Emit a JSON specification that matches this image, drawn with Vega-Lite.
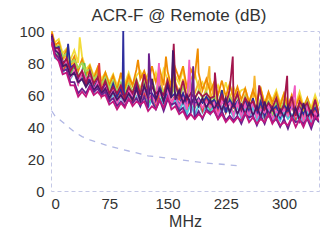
{
"$schema":"https://vega.github.io/schema/vega-lite/v6.json",
"width":268,"height":160,
"autosize":"none",
"padding":{"left":51,"top":31,"right":15,"bottom":51},
"background":"white",
"title":{"text":"ACR-F @ Remote (dB)","fontSize":17,"font":"Liberation Sans","fontWeight":"normal","color":"#333333","offset":-1,"dx":-6},
"config":{"view":{"stroke":"#c4c8e6","strokeDash":[4,3]},"font":"Liberation Sans"},
"encoding":{"x":{"field":"f","type":"quantitative","scale":{"domain":[0,345]},"axis":{"values":[0,75,150,225,300],"labelFontSize":15,"labelColor":"#333333","domain":false,"ticks":false,"grid":false,"labelPadding":5,"labelOverlap":false,"title":"MHz","titleFontSize":16,"titleFontWeight":"normal","titleColor":"#333333","titlePadding":2}},
"y":{"field":"v","type":"quantitative","scale":{"domain":[0,100]},"axis":{"values":[0,20,40,60,80,100],"labelFontSize":15,"labelColor":"#333333","domain":false,"ticks":false,"grid":false,"labelPadding":7,"labelOverlap":false,"labelBound":false,"title":null}}},
"layer":[
{"data":{"values":[{"f":1,"v":50},{"f":5,"v":47},{"f":10,"v":45},{"f":20,"v":41},{"f":30,"v":37},{"f":40,"v":34},{"f":50,"v":32},{"f":75,"v":28},{"f":100,"v":25},{"f":125,"v":22},{"f":150,"v":20.5},{"f":175,"v":19},{"f":200,"v":17.5},{"f":225,"v":16.5},{"f":245,"v":15.5}]},
"mark":{"type":"line","color":"#b0b6e4","strokeDash":[6,6],"strokeWidth":1.3}},
{"data":{"values":[
{"s":"a","f":1,"v":97},{"s":"a","f":5,"v":93},{"s":"a","f":10,"v":95},{"s":"a","f":15,"v":86},{"s":"a","f":20,"v":89},{"s":"a","f":25,"v":82},{"s":"a","f":30,"v":88},{"s":"a","f":35,"v":80},{"s":"a","f":37,"v":96},{"s":"a","f":40,"v":84},{"s":"a","f":45,"v":76},
{"s":"a","f":50,"v":79},{"s":"a","f":55,"v":72},{"s":"a","f":60,"v":77},{"s":"a","f":65,"v":70},{"s":"a","f":70,"v":74},{"s":"a","f":75,"v":68},{"s":"a","f":80,"v":73},{"s":"a","f":85,"v":66},{"s":"a","f":90,"v":72},{"s":"a","f":95,"v":67},
{"s":"a","f":100,"v":74},{"s":"a","f":105,"v":66},{"s":"a","f":110,"v":72},{"s":"a","f":115,"v":75},{"s":"a","f":120,"v":68},{"s":"a","f":125,"v":73},{"s":"a","f":130,"v":66},{"s":"a","f":135,"v":74},{"s":"a","f":140,"v":64},{"s":"a","f":145,"v":76},
{"s":"a","f":150,"v":70},{"s":"a","f":155,"v":64},{"s":"a","f":160,"v":72},{"s":"a","f":165,"v":67},{"s":"a","f":170,"v":76},{"s":"a","f":175,"v":63},{"s":"a","f":180,"v":70},{"s":"a","f":185,"v":74},{"s":"a","f":190,"v":64},{"s":"a","f":195,"v":68},
{"s":"a","f":200,"v":62},{"s":"a","f":205,"v":69},{"s":"a","f":210,"v":60},{"s":"a","f":215,"v":66},{"s":"a","f":220,"v":59},{"s":"a","f":225,"v":68},{"s":"a","f":230,"v":58},{"s":"a","f":235,"v":65},{"s":"a","f":240,"v":59},{"s":"a","f":245,"v":63},
{"s":"a","f":250,"v":64},{"s":"a","f":255,"v":56},{"s":"a","f":260,"v":62},{"s":"a","f":265,"v":58},{"s":"a","f":270,"v":64},{"s":"a","f":275,"v":55},{"s":"a","f":280,"v":61},{"s":"a","f":285,"v":57},{"s":"a","f":290,"v":63},{"s":"a","f":295,"v":55},
{"s":"a","f":300,"v":61},{"s":"a","f":305,"v":55},{"s":"a","f":310,"v":59},{"s":"a","f":315,"v":54},{"s":"a","f":320,"v":62},{"s":"a","f":325,"v":53},{"s":"a","f":330,"v":58},{"s":"a","f":335,"v":52},{"s":"a","f":340,"v":60},{"s":"a","f":345,"v":53},

{"s":"b","f":1,"v":100},{"s":"b","f":5,"v":92},{"s":"b","f":10,"v":90},{"s":"b","f":15,"v":82},{"s":"b","f":20,"v":85},{"s":"b","f":25,"v":78},{"s":"b","f":30,"v":81},{"s":"b","f":35,"v":76},{"s":"b","f":40,"v":82},{"s":"b","f":45,"v":72},
{"s":"b","f":50,"v":76},{"s":"b","f":55,"v":68},{"s":"b","f":60,"v":74},{"s":"b","f":65,"v":66},{"s":"b","f":70,"v":70},{"s":"b","f":75,"v":63},{"s":"b","f":80,"v":68},{"s":"b","f":85,"v":62},{"s":"b","f":90,"v":67},{"s":"b","f":95,"v":63},
{"s":"b","f":100,"v":70},{"s":"b","f":105,"v":61},{"s":"b","f":110,"v":69},{"s":"b","f":115,"v":64},{"s":"b","f":120,"v":71},{"s":"b","f":125,"v":62},{"s":"b","f":130,"v":67},{"s":"b","f":135,"v":60},{"s":"b","f":140,"v":72},{"s":"b","f":145,"v":61},
{"s":"b","f":150,"v":71},{"s":"b","f":155,"v":60},{"s":"b","f":160,"v":68},{"s":"b","f":165,"v":62},{"s":"b","f":170,"v":70},{"s":"b","f":175,"v":58},{"s":"b","f":180,"v":66},{"s":"b","f":185,"v":61},{"s":"b","f":190,"v":68},{"s":"b","f":195,"v":57},
{"s":"b","f":200,"v":64},{"s":"b","f":204,"v":78},{"s":"b","f":205,"v":56},{"s":"b","f":210,"v":66},{"s":"b","f":215,"v":55},{"s":"b","f":220,"v":62},{"s":"b","f":225,"v":54},{"s":"b","f":230,"v":60},{"s":"b","f":235,"v":55},{"s":"b","f":240,"v":61},{"s":"b","f":245,"v":52},
{"s":"b","f":250,"v":60},{"s":"b","f":255,"v":52},{"s":"b","f":260,"v":58},{"s":"b","f":262,"v":72},{"s":"b","f":265,"v":51},{"s":"b","f":270,"v":57},{"s":"b","f":275,"v":50},{"s":"b","f":280,"v":60},{"s":"b","f":285,"v":52},{"s":"b","f":290,"v":56},{"s":"b","f":295,"v":49},
{"s":"b","f":300,"v":57},{"s":"b","f":305,"v":50},{"s":"b","f":310,"v":58},{"s":"b","f":315,"v":49},{"s":"b","f":320,"v":55},{"s":"b","f":325,"v":51},{"s":"b","f":330,"v":57},{"s":"b","f":335,"v":48},{"s":"b","f":340,"v":55},{"s":"b","f":345,"v":47},

{"s":"c","f":1,"v":99},{"s":"c","f":5,"v":91},{"s":"c","f":10,"v":93},{"s":"c","f":15,"v":83},{"s":"c","f":20,"v":88},{"s":"c","f":25,"v":79},{"s":"c","f":30,"v":84},{"s":"c","f":35,"v":75},{"s":"c","f":40,"v":82},{"s":"c","f":45,"v":73},
{"s":"c","f":50,"v":78},{"s":"c","f":55,"v":70},{"s":"c","f":60,"v":77},{"s":"c","f":65,"v":67},{"s":"c","f":70,"v":74},{"s":"c","f":75,"v":66},{"s":"c","f":80,"v":72},{"s":"c","f":85,"v":63},{"s":"c","f":90,"v":74},{"s":"c","f":95,"v":64},
{"s":"c","f":100,"v":72},{"s":"c","f":105,"v":66},{"s":"c","f":110,"v":76},{"s":"c","f":112,"v":82},{"s":"c","f":115,"v":70},{"s":"c","f":120,"v":75},{"s":"c","f":125,"v":67},{"s":"c","f":130,"v":78},{"s":"c","f":135,"v":68},{"s":"c","f":140,"v":76},{"s":"c","f":145,"v":66},{"s":"c","f":148,"v":84},
{"s":"c","f":150,"v":75},{"s":"c","f":155,"v":65},{"s":"c","f":160,"v":77},{"s":"c","f":165,"v":70},{"s":"c","f":170,"v":78},{"s":"c","f":175,"v":64},{"s":"c","f":180,"v":76},{"s":"c","f":185,"v":71},{"s":"c","f":189,"v":89},{"s":"c","f":190,"v":74},{"s":"c","f":195,"v":63},
{"s":"c","f":200,"v":70},{"s":"c","f":205,"v":62},{"s":"c","f":210,"v":68},{"s":"c","f":215,"v":60},{"s":"c","f":220,"v":69},{"s":"c","f":225,"v":59},{"s":"c","f":230,"v":67},{"s":"c","f":235,"v":58},{"s":"c","f":240,"v":65},{"s":"c","f":245,"v":57},
{"s":"c","f":250,"v":64},{"s":"c","f":255,"v":55},{"s":"c","f":260,"v":63},{"s":"c","f":265,"v":56},{"s":"c","f":270,"v":64},{"s":"c","f":275,"v":54},{"s":"c","f":280,"v":62},{"s":"c","f":285,"v":55},{"s":"c","f":290,"v":61},{"s":"c","f":295,"v":53},
{"s":"c","f":300,"v":61},{"s":"c","f":305,"v":52},{"s":"c","f":310,"v":60},{"s":"c","f":315,"v":53},{"s":"c","f":320,"v":59},{"s":"c","f":325,"v":51},{"s":"c","f":330,"v":58},{"s":"c","f":335,"v":50},{"s":"c","f":340,"v":57},{"s":"c","f":345,"v":49},

{"s":"d","f":1,"v":94},{"s":"d","f":5,"v":85},{"s":"d","f":10,"v":86},{"s":"d","f":15,"v":77},{"s":"d","f":20,"v":81},{"s":"d","f":25,"v":73},{"s":"d","f":30,"v":78},{"s":"d","f":35,"v":72},{"s":"d","f":40,"v":75},{"s":"d","f":43,"v":80},{"s":"d","f":45,"v":70},
{"s":"d","f":50,"v":72},{"s":"d","f":55,"v":65},{"s":"d","f":60,"v":69},{"s":"d","f":65,"v":61},{"s":"d","f":70,"v":66},{"s":"d","f":75,"v":59},{"s":"d","f":80,"v":63},{"s":"d","f":85,"v":57},{"s":"d","f":90,"v":61},{"s":"d","f":95,"v":58},
{"s":"d","f":100,"v":61},{"s":"d","f":105,"v":56},{"s":"d","f":110,"v":64},{"s":"d","f":115,"v":55},{"s":"d","f":120,"v":62},{"s":"d","f":125,"v":54},{"s":"d","f":130,"v":59},{"s":"d","f":135,"v":55},{"s":"d","f":140,"v":63},{"s":"d","f":145,"v":54},
{"s":"d","f":150,"v":63},{"s":"d","f":155,"v":54},{"s":"d","f":160,"v":59},{"s":"d","f":165,"v":52},{"s":"d","f":170,"v":60},{"s":"d","f":175,"v":51},{"s":"d","f":180,"v":58},{"s":"d","f":185,"v":52},{"s":"d","f":190,"v":57},{"s":"d","f":195,"v":51},
{"s":"d","f":200,"v":57},{"s":"d","f":205,"v":50},{"s":"d","f":210,"v":58},{"s":"d","f":215,"v":49},{"s":"d","f":220,"v":56},{"s":"d","f":225,"v":52},{"s":"d","f":230,"v":55},{"s":"d","f":235,"v":48},{"s":"d","f":240,"v":56},{"s":"d","f":245,"v":49},
{"s":"d","f":250,"v":57},{"s":"d","f":255,"v":47},{"s":"d","f":260,"v":55},{"s":"d","f":265,"v":48},{"s":"d","f":270,"v":52},{"s":"d","f":275,"v":47},{"s":"d","f":280,"v":56},{"s":"d","f":285,"v":46},{"s":"d","f":290,"v":54},{"s":"d","f":295,"v":45},
{"s":"d","f":300,"v":53},{"s":"d","f":305,"v":46},{"s":"d","f":310,"v":54},{"s":"d","f":315,"v":45},{"s":"d","f":320,"v":53},{"s":"d","f":325,"v":46},{"s":"d","f":330,"v":55},{"s":"d","f":335,"v":45},{"s":"d","f":340,"v":52},{"s":"d","f":345,"v":46},

{"s":"da","f":1,"v":96},{"s":"da","f":5,"v":90},{"s":"da","f":10,"v":91},{"s":"da","f":15,"v":84},{"s":"da","f":20,"v":86},{"s":"da","f":25,"v":80},{"s":"da","f":30,"v":82},{"s":"da","f":35,"v":77},{"s":"da","f":40,"v":80},{"s":"da","f":45,"v":75},
{"s":"da","f":50,"v":76},{"s":"da","f":55,"v":70},{"s":"da","f":60,"v":73},{"s":"da","f":65,"v":67},{"s":"da","f":70,"v":71},{"s":"da","f":75,"v":64},{"s":"da","f":80,"v":69},{"s":"da","f":85,"v":62},{"s":"da","f":90,"v":68},{"s":"da","f":95,"v":61},
{"s":"da","f":100,"v":67},{"s":"da","f":105,"v":62},{"s":"da","f":110,"v":70},{"s":"da","f":115,"v":63},{"s":"da","f":120,"v":68},{"s":"da","f":125,"v":60},{"s":"da","f":130,"v":69},{"s":"da","f":135,"v":62},{"s":"da","f":140,"v":66},{"s":"da","f":145,"v":61},
{"s":"da","f":150,"v":68},{"s":"da","f":155,"v":60},{"s":"da","f":160,"v":66},{"s":"da","f":165,"v":58},{"s":"da","f":170,"v":65},{"s":"da","f":175,"v":59},{"s":"da","f":180,"v":67},{"s":"da","f":185,"v":57},{"s":"da","f":190,"v":63},{"s":"da","f":195,"v":58},
{"s":"da","f":200,"v":62},{"s":"da","f":205,"v":56},{"s":"da","f":210,"v":60},{"s":"da","f":215,"v":55},{"s":"da","f":220,"v":61},{"s":"da","f":225,"v":53},{"s":"da","f":230,"v":59},{"s":"da","f":235,"v":54},{"s":"da","f":240,"v":60},{"s":"da","f":245,"v":52},
{"s":"da","f":250,"v":59},{"s":"da","f":255,"v":51},{"s":"da","f":260,"v":57},{"s":"da","f":265,"v":50},{"s":"da","f":270,"v":58},{"s":"da","f":275,"v":52},{"s":"da","f":280,"v":56},{"s":"da","f":285,"v":49},{"s":"da","f":290,"v":58},{"s":"da","f":295,"v":50},
{"s":"da","f":300,"v":56},{"s":"da","f":305,"v":50},{"s":"da","f":310,"v":57},{"s":"da","f":315,"v":49},{"s":"da","f":320,"v":55},{"s":"da","f":325,"v":48},{"s":"da","f":330,"v":56},{"s":"da","f":335,"v":50},{"s":"da","f":340,"v":54},{"s":"da","f":345,"v":49},

{"s":"e","f":1,"v":94},{"s":"e","f":5,"v":83},{"s":"e","f":10,"v":82},{"s":"e","f":15,"v":74},{"s":"e","f":20,"v":77},{"s":"e","f":25,"v":70},{"s":"e","f":30,"v":74},{"s":"e","f":35,"v":67},{"s":"e","f":40,"v":71},{"s":"e","f":45,"v":66},
{"s":"e","f":50,"v":68},{"s":"e","f":55,"v":61},{"s":"e","f":60,"v":66},{"s":"e","f":65,"v":59},{"s":"e","f":70,"v":63},{"s":"e","f":75,"v":55},{"s":"e","f":80,"v":61},{"s":"e","f":85,"v":54},{"s":"e","f":90,"v":59},{"s":"e","f":95,"v":54},
{"s":"e","f":100,"v":60},{"s":"e","f":105,"v":55},{"s":"e","f":110,"v":59},{"s":"e","f":115,"v":53},{"s":"e","f":120,"v":61},{"s":"e","f":125,"v":52},{"s":"e","f":130,"v":57},{"s":"e","f":135,"v":53},{"s":"e","f":140,"v":58},{"s":"e","f":145,"v":54},
{"s":"e","f":150,"v":61},{"s":"e","f":155,"v":53},{"s":"e","f":160,"v":57},{"s":"e","f":165,"v":49},{"s":"e","f":170,"v":56},{"s":"e","f":175,"v":48},{"s":"e","f":180,"v":55},{"s":"e","f":185,"v":47},{"s":"e","f":190,"v":54},{"s":"e","f":195,"v":49},
{"s":"e","f":200,"v":53},{"s":"e","f":205,"v":48},{"s":"e","f":210,"v":55},{"s":"e","f":215,"v":46},{"s":"e","f":220,"v":53},{"s":"e","f":225,"v":49},{"s":"e","f":230,"v":51},{"s":"e","f":235,"v":46},{"s":"e","f":240,"v":53},{"s":"e","f":245,"v":45},
{"s":"e","f":250,"v":52},{"s":"e","f":255,"v":45},{"s":"e","f":260,"v":53},{"s":"e","f":265,"v":44},{"s":"e","f":270,"v":49},{"s":"e","f":275,"v":45},{"s":"e","f":280,"v":52},{"s":"e","f":285,"v":43},{"s":"e","f":290,"v":48},{"s":"e","f":295,"v":44},
{"s":"e","f":300,"v":49},{"s":"e","f":305,"v":45},{"s":"e","f":310,"v":48},{"s":"e","f":315,"v":44},{"s":"e","f":320,"v":48},{"s":"e","f":325,"v":41},{"s":"e","f":330,"v":49},{"s":"e","f":335,"v":42},{"s":"e","f":340,"v":47},{"s":"e","f":345,"v":43},

{"s":"f","f":1,"v":92},{"s":"f","f":5,"v":85},{"s":"f","f":10,"v":84},{"s":"f","f":15,"v":75},{"s":"f","f":20,"v":79},{"s":"f","f":25,"v":71},{"s":"f","f":30,"v":75},{"s":"f","f":35,"v":67},{"s":"f","f":40,"v":74},{"s":"f","f":45,"v":66},
{"s":"f","f":50,"v":70},{"s":"f","f":55,"v":63},{"s":"f","f":60,"v":67},{"s":"f","f":62,"v":80},{"s":"f","f":65,"v":59},{"s":"f","f":70,"v":64},{"s":"f","f":75,"v":57},{"s":"f","f":80,"v":63},{"s":"f","f":85,"v":55},{"s":"f","f":90,"v":62},{"s":"f","f":95,"v":55},
{"s":"f","f":100,"v":63},{"s":"f","f":105,"v":55},{"s":"f","f":110,"v":65},{"s":"f","f":115,"v":57},{"s":"f","f":120,"v":61},{"s":"f","f":125,"v":57},{"s":"f","f":130,"v":60},{"s":"f","f":135,"v":54},{"s":"f","f":140,"v":61},{"s":"f","f":145,"v":58},
{"s":"f","f":150,"v":65},{"s":"f","f":155,"v":55},{"s":"f","f":160,"v":60},{"s":"f","f":165,"v":57},{"s":"f","f":170,"v":61},{"s":"f","f":175,"v":52},{"s":"f","f":180,"v":57},{"s":"f","f":185,"v":53},{"s":"f","f":190,"v":58},{"s":"f","f":195,"v":50},
{"s":"f","f":200,"v":58},{"s":"f","f":205,"v":54},{"s":"f","f":210,"v":57},{"s":"f","f":215,"v":50},{"s":"f","f":220,"v":59},{"s":"f","f":225,"v":49},{"s":"f","f":230,"v":56},{"s":"f","f":235,"v":52},{"s":"f","f":240,"v":54},{"s":"f","f":245,"v":49},
{"s":"f","f":250,"v":56},{"s":"f","f":255,"v":48},{"s":"f","f":260,"v":57},{"s":"f","f":265,"v":47},{"s":"f","f":270,"v":55},{"s":"f","f":275,"v":46},{"s":"f","f":280,"v":54},{"s":"f","f":285,"v":50},{"s":"f","f":290,"v":52},{"s":"f","f":295,"v":47},
{"s":"f","f":300,"v":52},{"s":"f","f":305,"v":48},{"s":"f","f":310,"v":55},{"s":"f","f":315,"v":45},{"s":"f","f":320,"v":53},{"s":"f","f":325,"v":44},{"s":"f","f":330,"v":52},{"s":"f","f":335,"v":48},{"s":"f","f":340,"v":50},{"s":"f","f":345,"v":45},

{"s":"g","f":1,"v":96},{"s":"g","f":5,"v":89},{"s":"g","f":10,"v":90},{"s":"g","f":15,"v":81},{"s":"g","f":20,"v":80},{"s":"g","f":22,"v":92},{"s":"g","f":25,"v":77},{"s":"g","f":30,"v":79},{"s":"g","f":35,"v":70},{"s":"g","f":40,"v":74},{"s":"g","f":45,"v":67},
{"s":"g","f":50,"v":71},{"s":"g","f":55,"v":64},{"s":"g","f":60,"v":69},{"s":"g","f":65,"v":62},{"s":"g","f":70,"v":67},{"s":"g","f":75,"v":60},{"s":"g","f":80,"v":67},{"s":"g","f":85,"v":59},{"s":"g","f":90,"v":64},{"s":"g","f":92,"v":60},{"s":"g","f":93,"v":100},{"s":"g","f":94,"v":60},{"s":"g","f":95,"v":59},
{"s":"g","f":100,"v":65},{"s":"g","f":105,"v":58},{"s":"g","f":110,"v":66},{"s":"g","f":115,"v":57},{"s":"g","f":120,"v":65},{"s":"g","f":125,"v":61},{"s":"g","f":130,"v":61},{"s":"g","f":135,"v":57},{"s":"g","f":140,"v":66},{"s":"g","f":145,"v":56},
{"s":"g","f":150,"v":63},{"s":"g","f":155,"v":59},{"s":"g","f":160,"v":61},{"s":"g","f":165,"v":53},{"s":"g","f":170,"v":61},{"s":"g","f":175,"v":54},{"s":"g","f":180,"v":58},{"s":"g","f":185,"v":54},{"s":"g","f":190,"v":58},{"s":"g","f":195,"v":55},
{"s":"g","f":200,"v":59},{"s":"g","f":205,"v":55},{"s":"g","f":210,"v":57},{"s":"g","f":215,"v":52},{"s":"g","f":220,"v":63},{"s":"g","f":225,"v":49},{"s":"g","f":230,"v":57},{"s":"g","f":235,"v":53},{"s":"g","f":240,"v":56},{"s":"g","f":245,"v":49},
{"s":"g","f":250,"v":57},{"s":"g","f":255,"v":49},{"s":"g","f":260,"v":58},{"s":"g","f":265,"v":48},{"s":"g","f":270,"v":56},{"s":"g","f":275,"v":47},{"s":"g","f":280,"v":55},{"s":"g","f":285,"v":51},{"s":"g","f":290,"v":53},{"s":"g","f":295,"v":46},
{"s":"g","f":300,"v":54},{"s":"g","f":305,"v":50},{"s":"g","f":310,"v":53},{"s":"g","f":315,"v":49},{"s":"g","f":320,"v":52},{"s":"g","f":325,"v":48},{"s":"g","f":330,"v":53},{"s":"g","f":335,"v":49},{"s":"g","f":340,"v":52},{"s":"g","f":345,"v":47},

{"s":"h","f":1,"v":95},{"s":"h","f":5,"v":87},{"s":"h","f":10,"v":88},{"s":"h","f":15,"v":79},{"s":"h","f":20,"v":81},{"s":"h","f":25,"v":71},{"s":"h","f":30,"v":75},{"s":"h","f":35,"v":67},{"s":"h","f":40,"v":75},{"s":"h","f":45,"v":70},
{"s":"h","f":50,"v":71},{"s":"h","f":55,"v":63},{"s":"h","f":60,"v":68},{"s":"h","f":65,"v":60},{"s":"h","f":70,"v":65},{"s":"h","f":75,"v":58},{"s":"h","f":80,"v":63},{"s":"h","f":85,"v":55},{"s":"h","f":90,"v":60},{"s":"h","f":95,"v":55},
{"s":"h","f":100,"v":63},{"s":"h","f":105,"v":59},{"s":"h","f":110,"v":63},{"s":"h","f":115,"v":55},{"s":"h","f":120,"v":65},{"s":"h","f":125,"v":57},{"s":"h","f":130,"v":59},{"s":"h","f":135,"v":55},{"s":"h","f":139,"v":80},{"s":"h","f":140,"v":60},{"s":"h","f":145,"v":59},
{"s":"h","f":150,"v":63},{"s":"h","f":155,"v":55},{"s":"h","f":160,"v":59},{"s":"h","f":165,"v":53},{"s":"h","f":170,"v":58},{"s":"h","f":175,"v":51},{"s":"h","f":178,"v":82},{"s":"h","f":180,"v":57},{"s":"h","f":185,"v":53},{"s":"h","f":190,"v":57},{"s":"h","f":195,"v":52},
{"s":"h","f":200,"v":56},{"s":"h","f":205,"v":52},{"s":"h","f":210,"v":55},{"s":"h","f":215,"v":47},{"s":"h","f":220,"v":56},{"s":"h","f":225,"v":53},{"s":"h","f":230,"v":55},{"s":"h","f":235,"v":47},{"s":"h","f":240,"v":55},{"s":"h","f":245,"v":47},
{"s":"h","f":250,"v":54},{"s":"h","f":255,"v":47},{"s":"h","f":260,"v":56},{"s":"h","f":265,"v":46},{"s":"h","f":270,"v":51},{"s":"h","f":275,"v":49},{"s":"h","f":280,"v":53},{"s":"h","f":285,"v":45},{"s":"h","f":290,"v":50},{"s":"h","f":295,"v":47},
{"s":"h","f":300,"v":51},{"s":"h","f":305,"v":47},{"s":"h","f":310,"v":52},{"s":"h","f":314,"v":66},{"s":"h","f":315,"v":46},{"s":"h","f":320,"v":51},{"s":"h","f":325,"v":44},{"s":"h","f":330,"v":53},{"s":"h","f":335,"v":45},{"s":"h","f":340,"v":49},{"s":"h","f":345,"v":45},

{"s":"i","f":1,"v":98},{"s":"i","f":5,"v":89},{"s":"i","f":10,"v":89},{"s":"i","f":15,"v":79},{"s":"i","f":20,"v":83},{"s":"i","f":25,"v":75},{"s":"i","f":30,"v":79},{"s":"i","f":35,"v":71},{"s":"i","f":40,"v":75},{"s":"i","f":45,"v":67},
{"s":"i","f":50,"v":75},{"s":"i","f":55,"v":67},{"s":"i","f":60,"v":71},{"s":"i","f":65,"v":63},{"s":"i","f":70,"v":69},{"s":"i","f":75,"v":61},{"s":"i","f":80,"v":65},{"s":"i","f":85,"v":61},{"s":"i","f":90,"v":66},{"s":"i","f":95,"v":58},
{"s":"i","f":100,"v":65},{"s":"i","f":105,"v":61},{"s":"i","f":110,"v":69},{"s":"i","f":115,"v":60},{"s":"i","f":120,"v":73},{"s":"i","f":125,"v":62},{"s":"i","f":130,"v":65},{"s":"i","f":135,"v":61},{"s":"i","f":140,"v":63},{"s":"i","f":145,"v":60},
{"s":"i","f":150,"v":69},{"s":"i","f":155,"v":61},{"s":"i","f":158,"v":92},{"s":"i","f":160,"v":67},{"s":"i","f":165,"v":59},{"s":"i","f":170,"v":69},{"s":"i","f":175,"v":57},{"s":"i","f":180,"v":61},{"s":"i","f":185,"v":58},{"s":"i","f":190,"v":62},{"s":"i","f":195,"v":59},
{"s":"i","f":200,"v":61},{"s":"i","f":205,"v":58},{"s":"i","f":210,"v":59},{"s":"i","f":211,"v":74},{"s":"i","f":215,"v":53},{"s":"i","f":220,"v":60},{"s":"i","f":225,"v":54},{"s":"i","f":230,"v":63},{"s":"i","f":234,"v":84},{"s":"i","f":235,"v":54},{"s":"i","f":240,"v":61},{"s":"i","f":245,"v":51},
{"s":"i","f":250,"v":58},{"s":"i","f":255,"v":54},{"s":"i","f":260,"v":56},{"s":"i","f":265,"v":50},{"s":"i","f":268,"v":66},{"s":"i","f":270,"v":61},{"s":"i","f":275,"v":51},{"s":"i","f":280,"v":55},{"s":"i","f":285,"v":52},{"s":"i","f":290,"v":58},{"s":"i","f":295,"v":49},
{"s":"i","f":300,"v":54},{"s":"i","f":304,"v":72},{"s":"i","f":305,"v":51},{"s":"i","f":310,"v":59},{"s":"i","f":315,"v":47},{"s":"i","f":320,"v":56},{"s":"i","f":325,"v":52},{"s":"i","f":330,"v":55},{"s":"i","f":335,"v":47},{"s":"i","f":340,"v":57},{"s":"i","f":345,"v":47},

{"s":"ia","f":1,"v":97},{"s":"ia","f":5,"v":88},{"s":"ia","f":10,"v":86},{"s":"ia","f":15,"v":78},{"s":"ia","f":20,"v":79},{"s":"ia","f":25,"v":72},{"s":"ia","f":30,"v":74},{"s":"ia","f":35,"v":68},{"s":"ia","f":40,"v":70},{"s":"ia","f":45,"v":65},
{"s":"ia","f":50,"v":69},{"s":"ia","f":55,"v":63},{"s":"ia","f":60,"v":66},{"s":"ia","f":65,"v":61},{"s":"ia","f":70,"v":64},{"s":"ia","f":75,"v":58},{"s":"ia","f":80,"v":62},{"s":"ia","f":85,"v":57},{"s":"ia","f":90,"v":60},{"s":"ia","f":95,"v":56},
{"s":"ia","f":100,"v":61},{"s":"ia","f":105,"v":57},{"s":"ia","f":110,"v":64},{"s":"ia","f":115,"v":56},{"s":"ia","f":120,"v":66},{"s":"ia","f":125,"v":58},{"s":"ia","f":130,"v":70},{"s":"ia","f":135,"v":57},{"s":"ia","f":140,"v":64},{"s":"ia","f":145,"v":56},
{"s":"ia","f":150,"v":66},{"s":"ia","f":155,"v":58},{"s":"ia","f":157,"v":88},{"s":"ia","f":160,"v":57},{"s":"ia","f":165,"v":63},{"s":"ia","f":170,"v":55},{"s":"ia","f":175,"v":60},{"s":"ia","f":180,"v":54},{"s":"ia","f":185,"v":59},{"s":"ia","f":190,"v":53},{"s":"ia","f":195,"v":58},
{"s":"ia","f":200,"v":52},{"s":"ia","f":205,"v":57},{"s":"ia","f":210,"v":51},{"s":"ia","f":215,"v":56},{"s":"ia","f":220,"v":50},{"s":"ia","f":225,"v":58},{"s":"ia","f":230,"v":49},{"s":"ia","f":235,"v":55},{"s":"ia","f":240,"v":48},{"s":"ia","f":245,"v":54},
{"s":"ia","f":250,"v":48},{"s":"ia","f":255,"v":55},{"s":"ia","f":260,"v":47},{"s":"ia","f":265,"v":53},{"s":"ia","f":270,"v":46},{"s":"ia","f":275,"v":56},{"s":"ia","f":280,"v":47},{"s":"ia","f":285,"v":52},{"s":"ia","f":290,"v":45},{"s":"ia","f":295,"v":51},
{"s":"ia","f":300,"v":46},{"s":"ia","f":305,"v":53},{"s":"ia","f":310,"v":45},{"s":"ia","f":315,"v":52},{"s":"ia","f":320,"v":44},{"s":"ia","f":325,"v":55},{"s":"ia","f":330,"v":46},{"s":"ia","f":335,"v":50},{"s":"ia","f":340,"v":45},{"s":"ia","f":345,"v":48},

{"s":"j","f":1,"v":96},{"s":"j","f":5,"v":86},{"s":"j","f":10,"v":83},{"s":"j","f":15,"v":75},{"s":"j","f":20,"v":76},{"s":"j","f":25,"v":68},{"s":"j","f":30,"v":68},{"s":"j","f":35,"v":61},{"s":"j","f":40,"v":64},{"s":"j","f":45,"v":61},
{"s":"j","f":50,"v":66},{"s":"j","f":55,"v":62},{"s":"j","f":60,"v":64},{"s":"j","f":65,"v":60},{"s":"j","f":70,"v":62},{"s":"j","f":75,"v":56},{"s":"j","f":80,"v":58},{"s":"j","f":85,"v":53},{"s":"j","f":90,"v":56},{"s":"j","f":95,"v":53},
{"s":"j","f":100,"v":57},{"s":"j","f":105,"v":55},{"s":"j","f":110,"v":58},{"s":"j","f":115,"v":53},{"s":"j","f":120,"v":59},{"s":"j","f":125,"v":52},{"s":"j","f":126,"v":86},{"s":"j","f":130,"v":56},{"s":"j","f":135,"v":51},{"s":"j","f":140,"v":57},{"s":"j","f":145,"v":50},
{"s":"j","f":150,"v":57},{"s":"j","f":155,"v":54},{"s":"j","f":160,"v":55},{"s":"j","f":165,"v":50},{"s":"j","f":170,"v":52},{"s":"j","f":175,"v":46},{"s":"j","f":180,"v":49},{"s":"j","f":183,"v":78},{"s":"j","f":185,"v":45},{"s":"j","f":190,"v":50},{"s":"j","f":195,"v":45},
{"s":"j","f":200,"v":51},{"s":"j","f":205,"v":49},{"s":"j","f":210,"v":50},{"s":"j","f":215,"v":45},{"s":"j","f":220,"v":50},{"s":"j","f":225,"v":44},{"s":"j","f":230,"v":47},{"s":"j","f":235,"v":44},{"s":"j","f":240,"v":47},{"s":"j","f":245,"v":42},
{"s":"j","f":250,"v":48},{"s":"j","f":255,"v":46},{"s":"j","f":260,"v":47},{"s":"j","f":265,"v":41},{"s":"j","f":270,"v":47},{"s":"j","f":275,"v":42},{"s":"j","f":280,"v":49},{"s":"j","f":285,"v":43},{"s":"j","f":290,"v":45},{"s":"j","f":295,"v":40},
{"s":"j","f":300,"v":45},{"s":"j","f":305,"v":39},{"s":"j","f":310,"v":46},{"s":"j","f":315,"v":43},{"s":"j","f":320,"v":44},{"s":"j","f":325,"v":42},{"s":"j","f":330,"v":45},{"s":"j","f":335,"v":39},{"s":"j","f":340,"v":46},{"s":"j","f":345,"v":43},

{"s":"k","f":1,"v":93},{"s":"k","f":5,"v":84},{"s":"k","f":10,"v":81},{"s":"k","f":15,"v":73},{"s":"k","f":20,"v":74},{"s":"k","f":25,"v":66},{"s":"k","f":30,"v":66},{"s":"k","f":35,"v":59},{"s":"k","f":40,"v":62},{"s":"k","f":45,"v":59},
{"s":"k","f":50,"v":65},{"s":"k","f":55,"v":60},{"s":"k","f":60,"v":62},{"s":"k","f":65,"v":59},{"s":"k","f":70,"v":60},{"s":"k","f":75,"v":54},{"s":"k","f":80,"v":56},{"s":"k","f":85,"v":51},{"s":"k","f":90,"v":55},{"s":"k","f":95,"v":52},
{"s":"k","f":100,"v":58},{"s":"k","f":105,"v":53},{"s":"k","f":110,"v":56},{"s":"k","f":115,"v":54},{"s":"k","f":120,"v":56},{"s":"k","f":125,"v":50},{"s":"k","f":130,"v":53},{"s":"k","f":135,"v":51},{"s":"k","f":140,"v":57},{"s":"k","f":145,"v":52},
{"s":"k","f":150,"v":59},{"s":"k","f":155,"v":51},{"s":"k","f":160,"v":53},{"s":"k","f":165,"v":48},{"s":"k","f":170,"v":50},{"s":"k","f":175,"v":45},{"s":"k","f":180,"v":48},{"s":"k","f":185,"v":45},{"s":"k","f":190,"v":48},{"s":"k","f":195,"v":46},
{"s":"k","f":200,"v":50},{"s":"k","f":205,"v":48},{"s":"k","f":210,"v":51},{"s":"k","f":215,"v":45},{"s":"k","f":220,"v":48},{"s":"k","f":225,"v":43},{"s":"k","f":230,"v":46},{"s":"k","f":235,"v":43},{"s":"k","f":240,"v":46},{"s":"k","f":245,"v":44},
{"s":"k","f":250,"v":49},{"s":"k","f":255,"v":43},{"s":"k","f":260,"v":46},{"s":"k","f":265,"v":42},{"s":"k","f":270,"v":45},{"s":"k","f":275,"v":43},{"s":"k","f":280,"v":48},{"s":"k","f":285,"v":42},{"s":"k","f":290,"v":46},{"s":"k","f":295,"v":41},
{"s":"k","f":300,"v":43},{"s":"k","f":305,"v":41},{"s":"k","f":310,"v":46},{"s":"k","f":315,"v":40},{"s":"k","f":320,"v":45},{"s":"k","f":325,"v":40},{"s":"k","f":330,"v":46},{"s":"k","f":335,"v":41},{"s":"k","f":340,"v":47},{"s":"k","f":345,"v":44}
]},
"mark":{"type":"line","strokeWidth":1.8,"clip":true},
"encoding":{"color":{"field":"s","type":"nominal","legend":null,"scale":{"domain":["a","b","c","d","da","e","f","g","h","i","ia","j","k"],"range":["#f2dc3a","#f7b32b","#f08c00","#58c05a","#a6d854","#52c3e0","#e23a3a","#2e2e9e","#f25cc0","#a3154c","#4a1768","#6b1f8c","#c2177e"]}}}}
]
}
